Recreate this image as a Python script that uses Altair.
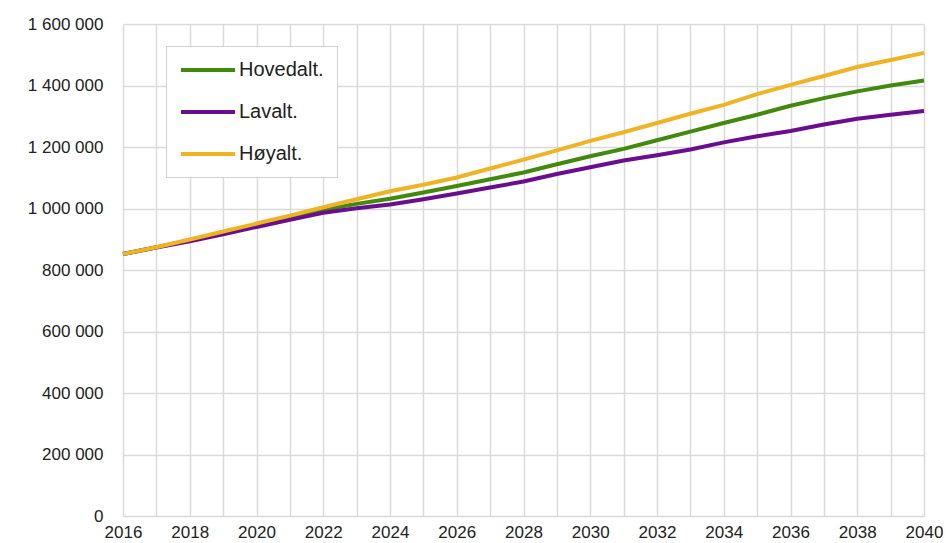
import altair as alt
import pandas as pd

years = list(range(2016, 2041))
hovedalt = [852000, 874000, 897000, 921000, 945000, 970000, 996000, 1015000, 1032000,
            1052000, 1073000, 1095000, 1117000, 1144000, 1170000, 1194000, 1222000,
            1250000, 1278000, 1305000, 1334000, 1359000, 1381000, 1400000, 1416000]
lavalt = [852000, 873000, 893000, 916000, 940000, 963000, 986000, 1001000, 1013000,
          1030000, 1049000, 1068000, 1088000, 1112000, 1134000, 1156000, 1173000,
          1192000, 1215000, 1235000, 1252000, 1273000, 1292000, 1305000, 1317000]
hoyalt = [852000, 874000, 899000, 925000, 951000, 977000, 1004000, 1030000, 1056000,
          1077000, 1101000, 1130000, 1159000, 1189000, 1220000, 1248000, 1278000,
          1308000, 1337000, 1372000, 1402000, 1431000, 1460000, 1483000, 1506000]

series_names = ["Hovedalt.", "Lavalt.", "Høyalt."]
series_colors = ["#428a0c", "#6a0d8f", "#f0b323"]

rows = []
for name, vals in zip(series_names, [hovedalt, lavalt, hoyalt]):
    for y, v in zip(years, vals):
        rows.append({"year": y, "value": v, "series": name})
df = pd.DataFrame(rows)

font = "Liberation Sans"

chart = alt.Chart(df).mark_line(strokeWidth=4).encode(
    x=alt.X("year:Q",
            scale=alt.Scale(domain=[2016, 2040], nice=False, zero=False),
            axis=alt.Axis(values=years, labelExpr="datum.value % 2 == 0 ? datum.value : ''",
                          title=None, domain=False, ticks=False, gridColor="#d9d9d9",
                          gridWidth=1.5, labelFont=font, labelFontSize=17,
                          labelColor="#222222", labelPadding=8, labelFlush=False,
                          labelOverlap=False)),
    y=alt.Y("value:Q",
            scale=alt.Scale(domain=[0, 1600000], nice=False),
            axis=alt.Axis(values=list(range(0, 1600001, 200000)),
                          labelExpr="replace(format(datum.value, ','), regexp(',', 'g'), ' ')",
                          title=None, domain=False, ticks=False, gridColor="#d9d9d9",
                          gridWidth=1.5, labelFont=font, labelFontSize=17,
                          labelColor="#222222", labelPadding=20)),
    color=alt.Color("series:N",
                    scale=alt.Scale(domain=series_names, range=series_colors),
                    sort=series_names,
                    legend=alt.Legend(title=None, orient="none", legendX=43, legendY=22,
                                      symbolType="M-1,0H5", symbolSize=324,
                                      symbolStrokeWidth=4, labelFont=font,
                                      labelFontSize=20, labelColor="#222222",
                                      fillColor="white", strokeColor="#d0d0d0",
                                      padding=13, rowPadding=21, labelOffset=38)),
).properties(
    width=801, height=492,
    autosize=alt.AutoSizeParams(type="none"),
    padding={"left": 115, "top": 16, "right": 19, "bottom": 27},
).configure_view(stroke=None)

chart.save("out.html", embed_options={"renderer": "svg", "actions": False})
